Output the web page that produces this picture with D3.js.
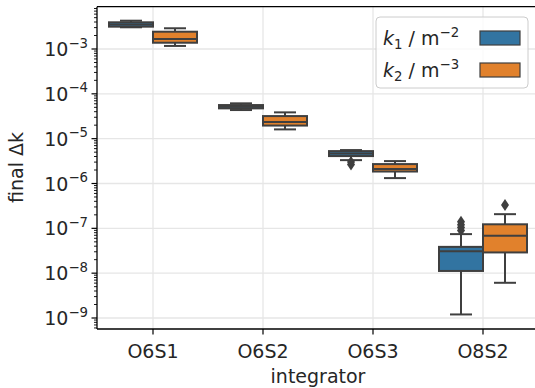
<!DOCTYPE html>
<html><head><meta charset="utf-8">
<script src="https://cdn.jsdelivr.net/npm/d3@7"></script>
<style>body{margin:0;background:#fff}svg{display:block;font-family:"DejaVu Sans",sans-serif}</style>
</head><body><svg id="c" width="535" height="388"></svg>
<script>
const categories = ["O6S1","O6S2","O6S3","O8S2"];
const seriesNames = ["k1","k2"];
// [whiskerLow, q1, median, q3, whiskerHigh]
const k1Stats = [
  [3.05e-3, 3.15e-3, 3.53e-3, 3.94e-3, 4.28e-3],
  [4.35e-5, 4.74e-5, 5.18e-5, 5.62e-5, 6.14e-5],
  [3.32e-6, 4.09e-6, 4.65e-6, 5.28e-6, 5.57e-6],
  [1.2e-9, 1.12e-8, 3.1e-8, 3.86e-8, 7.43e-8]
];
const k2Stats = [
  [1.17e-3, 1.38e-3, 1.67e-3, 2.43e-3, 2.9e-3],
  [1.61e-5, 1.96e-5, 2.34e-5, 3.19e-5, 3.86e-5],
  [1.32e-6, 1.85e-6, 2.1e-6, 2.71e-6, 3.16e-6],
  [6.1e-9, 2.9e-8, 6.8e-8, 1.23e-7, 2.07e-7]
];
const k1Outliers = [[], [], [3.0e-6, 2.65e-6], [9.0e-8, 1.05e-7, 1.2e-7, 1.4e-7]];
const k2Outliers = [[], [], [], [3.3e-7]];
const yTickValues = [1e-3,1e-4,1e-5,1e-6,1e-7,1e-8,1e-9];
const yTickExps = ["−3","−4","−5","−6","−7","−8","−9"];
const colors = ["#3274a1","#e1812c"];
const lineColor = "#3f3f3f";

const svg = d3.select("#c");
const pL = 97, pT = 6.7, pB = 329, pR = 538;
const FS = 19, FSS = 13.3;
const x = d3.scaleBand().domain(categories).range([98, 538]).padding(0);
const y = d3.scaleLog().domain([1e-9, 1e-3]).range([318, 49]);
const hue = d3.scaleBand().domain(seriesNames).range([0, x.bandwidth()*0.8]);

// grid
const g = svg.append("g");
g.selectAll(".gy").data(yTickValues).join("line")
  .attr("x1", pL).attr("x2", pR).attr("y1", d=>y(d)).attr("y2", d=>y(d))
  .attr("stroke", "#e6e6e6").attr("stroke-width", 1.3);
g.selectAll(".gx").data(categories).join("line")
  .attr("x1", d=>x(d)+x.bandwidth()/2).attr("x2", d=>x(d)+x.bandwidth()/2)
  .attr("y1", pT).attr("y2", pB)
  .attr("stroke", "#e6e6e6").attr("stroke-width", 1.3);

// boxes
const allStats = [k1Stats, k2Stats];
const allOut = [k1Outliers, k2Outliers];
seriesNames.forEach((s, si) => {
  categories.forEach((c, ci) => {
    const st = allStats[si][ci];
    const x0 = x(c) + x.bandwidth()*0.1 + hue(s);
    const w = hue.bandwidth();
    const cx = x0 + w/2;
    const bg = svg.append("g");
    bg.append("line").attr("x1", cx).attr("x2", cx).attr("y1", y(st[0])).attr("y2", y(st[1]))
      .attr("stroke", lineColor).attr("stroke-width", 2);
    bg.append("line").attr("x1", cx).attr("x2", cx).attr("y1", y(st[3])).attr("y2", y(st[4]))
      .attr("stroke", lineColor).attr("stroke-width", 2);
    [st[0], st[4]].forEach(v => bg.append("line").attr("x1", cx - w/4).attr("x2", cx + w/4)
      .attr("y1", y(v)).attr("y2", y(v)).attr("stroke", lineColor).attr("stroke-width", 2));
    bg.append("rect").attr("x", x0).attr("width", w).attr("y", y(st[3])).attr("height", y(st[1]) - y(st[3]))
      .attr("fill", colors[si]).attr("stroke", lineColor).attr("stroke-width", 2);
    bg.append("line").attr("x1", x0).attr("x2", x0 + w).attr("y1", y(st[2])).attr("y2", y(st[2]))
      .attr("stroke", lineColor).attr("stroke-width", 2);
    allOut[si][ci].forEach(v => {
      const py = y(v);
      bg.append("path").attr("d", `M${cx},${py-6}L${cx+4},${py}L${cx},${py+6}L${cx-4},${py}Z`)
        .attr("fill", lineColor);
    });
  });
});

// spines
svg.append("line").attr("x1", pL).attr("x2", pL).attr("y1", pT).attr("y2", pB)
  .attr("stroke", "#000").attr("stroke-width", 1.3);
svg.append("line").attr("x1", pL).attr("x2", pR).attr("y1", pB).attr("y2", pB)
  .attr("stroke", "#000").attr("stroke-width", 1.3);
svg.append("line").attr("x1", pL).attr("x2", pR).attr("y1", pT).attr("y2", pT)
  .attr("stroke", "#000").attr("stroke-width", 1.3);

// y ticks
const minor = [];
for (let e = -10; e <= -2; e++) for (let m = 2; m <= 9; m++) {
  const v = m * Math.pow(10, e);
  const py = y(v);
  if (py >= pT && py <= pB) minor.push(v);
}
svg.selectAll(".mn").data(minor).join("line")
  .attr("x1", pL - 3).attr("x2", pL).attr("y1", d=>y(d)).attr("y2", d=>y(d))
  .attr("stroke", "#000").attr("stroke-width", 0.9);
svg.selectAll(".mj").data(yTickValues).join("line")
  .attr("x1", pL - 5.5).attr("x2", pL).attr("y1", d=>y(d)).attr("y2", d=>y(d))
  .attr("stroke", "#000").attr("stroke-width", 1.2);
const yt = svg.selectAll(".yl").data(yTickValues).join("text")
  .attr("x", pL - 9).attr("y", d=>y(d) + 7).attr("text-anchor", "end")
  .attr("font-size", FS).attr("fill", "#262626");
yt.append("tspan").text("10");
yt.append("tspan").attr("font-size", FSS).attr("dy", -8.5).text((d,i)=>yTickExps[i]);

// x ticks
svg.selectAll(".xt").data(categories).join("line")
  .attr("x1", d=>x(d)+x.bandwidth()/2).attr("x2", d=>x(d)+x.bandwidth()/2)
  .attr("y1", pB).attr("y2", pB + 5.5).attr("stroke", "#000").attr("stroke-width", 1.2);
svg.selectAll(".xl").data(categories).join("text")
  .attr("x", d=>x(d)+x.bandwidth()/2).attr("y", 358).attr("text-anchor", "middle")
  .attr("font-size", FS).attr("fill", "#262626").text(d=>d);

// axis labels
svg.append("text").attr("x", 318).attr("y", 382.5).attr("text-anchor", "middle")
  .attr("font-size", FS).attr("fill", "#262626").text("integrator");
svg.append("text").attr("transform", "translate(23,167.5) rotate(-90)").attr("text-anchor", "middle")
  .attr("font-size", FS).attr("fill", "#262626").text("final Δk");

// legend
const lg = svg.append("g");
lg.append("rect").attr("x", 376).attr("y", 17).attr("width", 152).attr("height", 71).attr("rx", 4)
  .attr("fill", "#fff").attr("fill-opacity", 0.8).attr("stroke", "#cccccc").attr("stroke-width", 1);
const legLabels = [["1","2"],["2","3"]];
seriesNames.forEach((s, i) => {
  const ly = 38 + i * 32;
  const t = lg.append("text").attr("x", 383).attr("y", ly + 7).attr("font-size", FS).attr("fill", "#262626");
  t.append("tspan").attr("font-style", "italic").text("k");
  t.append("tspan").attr("font-size", FSS).attr("dy", 4).text(legLabels[i][0]);
  t.append("tspan").attr("dy", -4).text(" / m");
  t.append("tspan").attr("font-size", FSS).attr("dy", -8.5).text("−" + legLabels[i][1]);
  lg.append("rect").attr("x", 480).attr("y", ly - 7).attr("width", 40).attr("height", 14)
    .attr("fill", colors[i]).attr("stroke", lineColor).attr("stroke-width", 1.2);
});
</script></body></html>
